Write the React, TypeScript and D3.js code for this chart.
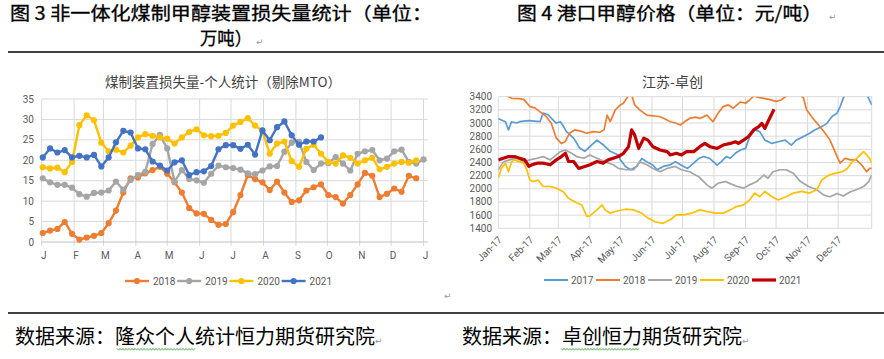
import React from 'react';
import * as d3 from 'd3';

// left chart: weekly losses (10k tons), one value per week from early Jan
const monthStartDays = [0, 31, 59, 90, 120, 151, 181, 212, 243, 273, 304, 334, 365];
const lossMonthLabels = ['J', 'F', 'M', 'A', 'M', 'J', 'J', 'A', 'S', 'O', 'N', 'D', 'J'];
const lossTicks = [0, 5, 10, 15, 20, 25, 30, 35];
const lossYears = ['2018', '2019', '2020', '2021'];

const loss2018 = [2.2, 2.8, 3.2, 4.9, 2.0, 0.6, 1.1, 1.5, 2.2, 4.6, 7.7, 12.1, 15.6, 15.8, 16.8, 17.6, 18.4, 16.7, 14.6, 12.1,
  8.3, 7.0, 6.9, 5.4, 4.2, 4.4, 7.3, 11.5, 16.4, 15.4, 14.6, 12.7, 14.8, 12.1, 9.8, 10.2, 12.6, 13.4, 14.1, 11.5,
  11.0, 9.4, 11.5, 14.1, 16.9, 16.2, 11.0, 11.8, 13.1, 12.3, 16.2, 15.6];
const loss2019 = [15.6, 14.6, 14.0, 14.0, 13.3, 11.7, 11.1, 12.0, 12.1, 12.6, 14.8, 12.8, 15.2, 16.4, 17.2, 24.0, 26.2, 22.9, 14.8, 17.6,
  15.4, 15.1, 14.5, 16.7, 18.7, 18.3, 18.1, 17.7, 16.8, 16.6, 17.5, 18.5, 18.6, 22.1, 24.3, 24.5, 19.6, 17.6, 19.2, 19.3,
  20.8, 19.2, 17.5, 21.6, 22.2, 22.5, 20.0, 20.4, 22.2, 22.6, 19.6, 19.2, 20.2];
const loss2020 = [18.3, 18.0, 18.2, 17.1, 19.6, 28.6, 31.0, 29.8, 24.3, 22.2, 22.6, 21.9, 23.6, 25.6, 26.4, 26.0, 25.6, 25.3, 24.1, 25.6,
  26.9, 27.6, 26.1, 25.9, 26.0, 26.7, 28.5, 29.4, 30.3, 28.5, 27.2, 21.6, 24.1, 24.6, 19.8, 18.4, 22.8, 23.8, 21.6, 19.6,
  19.2, 21.2, 20.6, 19.2, 20.0, 20.6, 17.8, 18.4, 19.2, 19.6, 19.4, 20.0];
const loss2021 = [20.7, 22.9, 21.9, 22.5, 20.7, 21.1, 20.7, 21.3, 18.5, 20.7, 24.4, 27.2, 26.8, 22.9, 22.7, 19.7, 18.7, 17.5, 19.5, 20.0,
  16.4, 17.1, 17.3, 18.6, 22.7, 23.7, 23.7, 22.8, 23.8, 21.4, 27.3, 24.9, 28.1, 29.5, 26.1, 23.8, 24.6, 24.6, 25.6];

// right chart: port methanol price, [day of year, yuan/ton]
const priceMonthLabels = ['Jan-17', 'Feb-17', 'Mar-17', 'Apr-17', 'May-17', 'Jun-17', 'Jul-17', 'Aug-17', 'Sep-17', 'Oct-17', 'Nov-17', 'Dec-17'];
const priceTicks = [1400, 1600, 1800, 2000, 2200, 2400, 2600, 2800, 3000, 3200, 3400];
const priceYears = ['2017', '2018', '2019', '2020', '2021'];

const price2017 = [[0, 3070], [3, 3045], [7, 3020], [10, 2895], [13, 3020], [18, 3000], [21, 3020], [25, 3030], [30, 3035], [38, 3025],
  [41, 3020], [44, 3150], [49, 3125], [52, 3075], [57, 3000], [61, 3020], [64, 2950], [67, 2870], [74, 2770], [80, 2620],
  [85, 2570], [90, 2640], [97, 2740], [103, 2670], [110, 2570], [118, 2515], [120, 2440], [125, 2340], [130, 2290], [136, 2340],
  [141, 2460], [146, 2410], [152, 2360], [156, 2290], [162, 2340], [168, 2360], [174, 2410], [180, 2360], [186, 2310], [192, 2390],
  [197, 2460], [202, 2490], [208, 2460], [215, 2360], [219, 2410], [224, 2490], [228, 2465], [233, 2540], [238, 2590], [243, 2615],
  [247, 2790], [252, 2895], [257, 2870], [262, 2740], [269, 2690], [275, 2715], [282, 2740], [288, 2665], [293, 2740], [300, 2795],
  [306, 2845], [311, 2895], [318, 2945], [323, 2995], [328, 3100], [333, 3150], [336, 3250], [339, 3375], [342, 3480], [350, 3600],
  [358, 3560], [364, 3375], [367, 3275]];
const price2018 = [[0, 3450], [8, 3420], [13, 3375], [20, 3370], [25, 3360], [31, 3250], [36, 3230], [41, 3170], [47, 3100], [52, 3000],
  [57, 2770], [62, 2690], [66, 2720], [70, 2845], [75, 2895], [80, 2880], [87, 2845], [93, 2870], [100, 2860], [104, 2900],
  [107, 3120], [110, 3020], [115, 3200], [120, 3275], [123, 3300], [128, 3420], [131, 3430], [134, 3275], [139, 3200], [146, 3120],
  [152, 3110], [159, 3095], [164, 3060], [169, 3020], [174, 3000], [179, 2970], [184, 3030], [188, 3070], [194, 3090], [198, 3070],
  [205, 3120], [211, 3020], [216, 3150], [221, 3250], [226, 3275], [231, 3225], [238, 3320], [243, 3300], [247, 3350], [251, 3410],
  [256, 3390], [261, 3375], [266, 3360], [273, 3330], [278, 3350], [283, 3410], [290, 3450], [297, 3420], [300, 3380], [303, 3200],
  [308, 3095], [313, 3000], [320, 2870], [326, 2740], [333, 2490], [336, 2390], [341, 2465], [346, 2440], [352, 2440], [357, 2365],
  [362, 2260], [365, 2310], [367, 2310]];
const price2019 = [[0, 2290], [5, 2410], [11, 2440], [18, 2465], [25, 2410], [31, 2440], [38, 2465], [44, 2490], [51, 2440], [61, 2565],
  [66, 2590], [72, 2540], [77, 2490], [84, 2465], [90, 2515], [97, 2465], [105, 2410], [113, 2365], [118, 2310], [126, 2290],
  [133, 2290], [139, 2410], [146, 2365], [152, 2310], [159, 2260], [166, 2310], [174, 2340], [180, 2290], [188, 2260], [197, 2185],
  [205, 2060], [210, 2010], [216, 2085], [223, 2110], [231, 2060], [235, 2035], [241, 2010], [247, 2060], [254, 2110], [261, 2210],
  [265, 2160], [270, 2260], [277, 2290], [283, 2290], [290, 2235], [297, 2110], [305, 2035], [313, 1985], [320, 1905], [326, 1880],
  [333, 1930], [339, 1890], [346, 1955], [352, 1985], [359, 2035], [364, 2110], [367, 2210]];
const price2020 = [[0, 2160], [3, 2310], [7, 2390], [10, 2260], [13, 2410], [16, 2440], [21, 2410], [25, 2390], [28, 2290], [31, 2135],
  [34, 2110], [39, 2135], [44, 2035], [51, 2035], [57, 2010], [64, 1955], [69, 1855], [75, 1805], [82, 1755], [87, 1580],
  [90, 1590], [97, 1680], [102, 1755], [105, 1680], [110, 1630], [115, 1655], [125, 1690], [133, 1680], [141, 1630], [147, 1555],
  [154, 1500], [162, 1475], [169, 1530], [175, 1605], [182, 1605], [190, 1630], [198, 1680], [205, 1655], [213, 1630], [221, 1630],
  [228, 1680], [234, 1730], [241, 1755], [247, 1830], [252, 1935], [257, 1880], [262, 1960], [269, 1880], [275, 1830], [283, 1880],
  [290, 1935], [298, 1960], [306, 1935], [313, 1985], [318, 2135], [325, 2210], [331, 2235], [338, 2260], [343, 2310], [348, 2410],
  [354, 2490], [359, 2565], [362, 2515], [365, 2465], [367, 2390]];
const price2021 = [[0, 2440], [5, 2465], [10, 2490], [16, 2490], [21, 2465], [26, 2440], [30, 2340], [33, 2365], [38, 2390], [44, 2390],
  [51, 2365], [57, 2440], [62, 2490], [66, 2540], [69, 2415], [74, 2415], [79, 2310], [85, 2340], [90, 2365], [97, 2415],
  [103, 2390], [108, 2440], [113, 2465], [118, 2490], [123, 2540], [128, 2640], [131, 2895], [134, 2820], [138, 2615], [143, 2770],
  [147, 2740], [152, 2640], [159, 2590], [166, 2565], [169, 2515], [175, 2540], [180, 2515], [185, 2565], [192, 2565], [198, 2640],
  [203, 2690], [208, 2640], [215, 2615], [221, 2665], [228, 2690], [233, 2715], [236, 2690], [241, 2740], [246, 2795], [251, 2895],
  [256, 2945], [259, 2995], [262, 2920], [265, 3020], [269, 3145], [271, 3210]];

const lossColors = ['#ED7D31', '#A5A5A5', '#FFC000', '#4472C4'];
const priceColors = ['#5B9BD5', '#ED7D31', '#A5A5A5', '#FFC000', '#C00000'];
const axisFont = 'Roboto, "Noto Sans CJK SC", sans-serif';
const cjkFont = '"Noto Sans CJK SC", sans-serif';

function LossChart() {
  const x = d3.scaleLinear().domain([0, 369]).range([41.7, 427.7]);
  const y = d3.scaleLinear().domain([0, 35]).range([242, 99]);
  const series = [loss2018, loss2019, loss2020, loss2021];
  const line = d3.line<number>().x((_, i) => x(1 + 7 * i)).y(d => y(d));

  return (
    <g>
      <text x={223} y={87} textAnchor="middle" fontSize={13.5} fill="#404040" fontFamily={cjkFont}>
        煤制装置损失量-个人统计（剔除MTO）
      </text>
      {lossTicks.slice(1).map(t => (
        <line key={t} x1={x(0)} x2={x(369)} y1={y(t)} y2={y(t)} stroke="#d9d9d9" strokeWidth={1} />
      ))}
      {monthStartDays.map((d, i) => (
        <line key={i} x1={x(d)} x2={x(d)} y1={y(35)} y2={y(0) + 4} stroke="#d9d9d9" strokeWidth={1} />
      ))}
      <line x1={x(0)} x2={x(369)} y1={y(0)} y2={y(0)} stroke="#bfbfbf" strokeWidth={1} />
      {lossTicks.map(t => (
        <text key={t} x={34} y={y(t)} dy="0.35em" textAnchor="end" fontSize={10} fill="#595959" fontFamily={axisFont}>{t}</text>
      ))}
      {lossMonthLabels.map((m, i) => (
        <text key={i} x={x(monthStartDays[i]) + 2} y={259} textAnchor="middle" fontSize={10} fill="#595959" fontFamily={axisFont}>{m}</text>
      ))}
      {series.map((s, k) => (
        <g key={k}>
          <path d={line(s) || ''} fill="none" stroke={lossColors[k]} strokeWidth={2.4} strokeLinejoin="round" />
          {s.map((v, i) => (
            <circle key={i} cx={x(1 + 7 * i)} cy={y(v)} r={3.1} fill={lossColors[k]} />
          ))}
        </g>
      ))}
      {lossYears.map((yr, i) => {
        const lx = 125 + i * 52.2;
        return (
          <g key={yr}>
            <line x1={lx} x2={lx + 24} y1={281} y2={281} stroke={lossColors[i]} strokeWidth={2.4} />
            <circle cx={lx + 12} cy={281} r={3.1} fill={lossColors[i]} />
            <text x={lx + 28} y={281} dy="0.35em" fontSize={10} fill="#595959" fontFamily={axisFont}>{yr}</text>
          </g>
        );
      })}
    </g>
  );
}

function PriceChart() {
  const x = d3.scaleLinear().domain([0, 367]).range([498.3, 871.7]);
  const y = d3.scaleLinear().domain([1400, 3400]).range([228.3, 96.7]);
  const series = [price2017, price2018, price2019, price2020, price2021];
  const line = d3.line<number[]>().x(d => x(d[0])).y(d => y(d[1]));
  const gridDays = [...monthStartDays.slice(0, 12), 367];

  return (
    <g>
      <defs>
        <clipPath id="priceClip">
          <rect x={x(0)} y={y(3400)} width={x(367) - x(0)} height={y(1400) - y(3400)} />
        </clipPath>
      </defs>
      <text x={672.5} y={87} textAnchor="middle" fontSize={14} fill="#404040" fontFamily={cjkFont}>江苏-卓创</text>
      {priceTicks.map(t => (
        <line key={t} x1={x(0)} x2={x(367)} y1={y(t)} y2={y(t)} stroke="#d9d9d9" strokeWidth={1} />
      ))}
      {gridDays.map((d, i) => (
        <line key={i} x1={x(d)} x2={x(d)} y1={y(3400)} y2={y(1400)} stroke="#d9d9d9" strokeWidth={1} />
      ))}
      {priceTicks.map(t => (
        <text key={t} x={492} y={y(t)} dy="0.35em" textAnchor="end" fontSize={10} fill="#595959" fontFamily={axisFont}>{t}</text>
      ))}
      {priceMonthLabels.map((m, i) => {
        const px = x(monthStartDays[i]) + 2;
        const py = 238;
        return (
          <text key={m} x={px} y={py} dy="0.35em" textAnchor="end" fontSize={10} fill="#595959" fontFamily={axisFont}
            transform={`rotate(-45, ${px}, ${py})`}>{m}</text>
        );
      })}
      <g clipPath="url(#priceClip)">
        {series.map((s, k) => (
          <path key={k} d={line(s) || ''} fill="none" stroke={priceColors[k]} strokeWidth={k === 4 ? 3.2 : 1.7} strokeLinejoin="round" />
        ))}
      </g>
      {priceYears.map((yr, i) => {
        const lx = 544 + i * 52;
        return (
          <g key={yr}>
            <line x1={lx} x2={lx + 24} y1={280} y2={280} stroke={priceColors[i]} strokeWidth={i === 4 ? 3.2 : 2} />
            <text x={lx + 27} y={280} dy="0.35em" fontSize={10} fill="#595959" fontFamily={axisFont}>{yr}</text>
          </g>
        );
      })}
    </g>
  );
}

function squiggle(x0: number, x1: number, yy: number) {
  const pts: [number, number][] = [];
  for (let xx = x0, k = 0; xx <= x1; xx += 1.5, k++) pts.push([xx, yy + (k % 2 ? 1.2 : -0.6)]);
  return d3.line()(pts) || '';
}

export default function App() {
  return (
    <svg width={884} height={359} style={{ position: 'absolute', left: 0, top: 0, background: '#fff' }}>
      <rect width={884} height={359} fill="#fff" />
      <text x={10} y={20} fontSize={18} fontFamily={cjkFont} stroke="#000" strokeWidth={0.3}
        textLength={422} lengthAdjust="spacingAndGlyphs">
        图 3 非一体化煤制甲醇装置损失量统计（单位：
      </text>
      <text x={200} y={45} fontSize={18} fontFamily={cjkFont} stroke="#000" strokeWidth={0.3}
        textLength={52} lengthAdjust="spacingAndGlyphs">万吨）</text>
      <text x={256} y={45} fontSize={9} fill="#999" fontFamily="DejaVu Sans">↵</text>
      <text x={517} y={20} fontSize={18} fontFamily={cjkFont} stroke="#000" strokeWidth={0.3}
        textLength={305} lengthAdjust="spacingAndGlyphs">
        图 4 港口甲醇价格（单位：元/吨）
      </text>
      <text x={829} y={20} fontSize={9} fill="#999" fontFamily="DejaVu Sans">↵</text>
      <line x1={8} x2={884} y1={52} y2={52} stroke="#000" strokeWidth={1.5} />

      <LossChart />
      <PriceChart />

      <text x={444} y={299} fontSize={9} fill="#999" fontFamily="DejaVu Sans">↵</text>
      <line x1={8} x2={884} y1={313} y2={313} stroke="#000" strokeWidth={1.5} />
      <text x={15} y={344} fontSize={20} fontFamily={cjkFont}>数据来源：隆众个人统计恒力期货研究院</text>
      <text x={375} y={344} fontSize={9} fill="#999" fontFamily="DejaVu Sans">↵</text>
      <path d={squiggle(117, 195, 349)} fill="none" stroke="#3a9a3a" strokeWidth={0.8} />
      <text x={462} y={344} fontSize={20} fontFamily={cjkFont}>数据来源：卓创恒力期货研究院</text>
      <text x={742} y={344} fontSize={9} fill="#999" fontFamily="DejaVu Sans">↵</text>
      <path d={squiggle(561, 640, 349)} fill="none" stroke="#3a9a3a" strokeWidth={0.8} />
    </svg>
  );
}
